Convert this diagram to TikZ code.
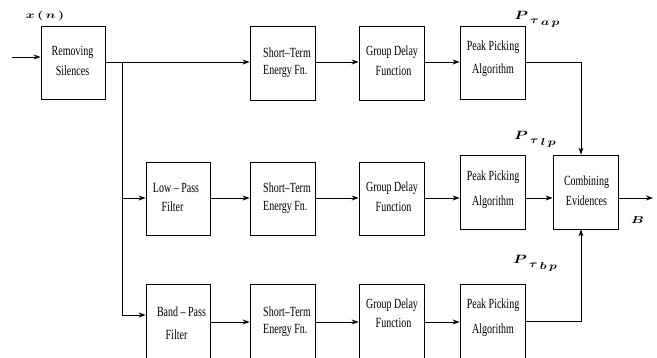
\documentclass[tikz,border=0pt]{standalone}
\usepackage{fontspec}
\setmainfont{Liberation Serif}
\usetikzlibrary{arrows.meta}
\newcommand{\tallt}[1]{\scalebox{1}[1.4]{#1}}
\newcommand{\ptau}[1]{\scalebox{1.3}[1]{\boldmath{\large$P$}\,\raisebox{-4.5pt}{$\tau$}\,\raisebox{-6pt}{$#1$}}}
\begin{document}
\begin{tikzpicture}[x=1pt,y=-1pt,
  blk/.style={draw, line width=0.8pt, inner sep=0pt, rectangle},
  txt/.style={inner sep=0pt, font=\fontsize{10}{12}\selectfont},
  mth/.style={inner sep=0pt},
  arr/.style={line width=0.9pt, -{Stealth[length=7pt,width=5pt]}},
  ln/.style={line width=0.9pt}]
\clip (0,0) rectangle (657,358);
\fill[white] (0,0) rectangle (657,358);
% boxes
\node[blk, minimum width=64pt, minimum height=73pt] (rs)  at (73,62.5) {};
\node[blk, minimum width=65pt, minimum height=74pt] (st1) at (282.5,63) {};
\node[blk, minimum width=65pt, minimum height=74pt] (gd1) at (391.5,63) {};
\node[blk, minimum width=65pt, minimum height=73pt] (pp1) at (492.5,62.5) {};
\node[blk, minimum width=64pt, minimum height=73pt] (lp)  at (178,198.5) {};
\node[blk, minimum width=65pt, minimum height=73pt] (st2) at (282.5,198.5) {};
\node[blk, minimum width=65pt, minimum height=73pt] (gd2) at (391.5,198.5) {};
\node[blk, minimum width=65pt, minimum height=74pt] (pp2) at (492.5,192) {};
\node[blk, minimum width=65pt, minimum height=74pt] (ce)  at (585.5,192) {};
\node[blk, minimum width=64pt, minimum height=75pt] (bp)  at (178,321.5) {};
\node[blk, minimum width=65pt, minimum height=75pt] (st3) at (282.5,321.5) {};
\node[blk, minimum width=65pt, minimum height=75pt] (gd3) at (391.5,321.5) {};
\node[blk, minimum width=65pt, minimum height=75pt] (pp3) at (492.5,321.5) {};
% texts
\node[txt] (rs1) at (72.5,52.5) {\tallt{Removing}};
\node[txt] (rs2) at (72.5,71) {\tallt{Silences}};
\node[txt, anchor=west] (st1a) at (263,52.5) {\tallt{Short–Term}};
\node[txt, anchor=west] (st1b) at (263,71) {\tallt{Energy Fn.}};
\node[txt] (gd1a) at (392,52.5) {\tallt{Group Delay}};
\node[txt] (gd1b) at (393.5,71) {\tallt{Function}};
\node[txt] (pp1a) at (493,47) {\tallt{Peak Picking}};
\node[txt] (pp1b) at (493,70) {\tallt{Algorithm}};
\node[txt] (lp1) at (176,188) {\tallt{Low – Pass}};
\node[txt] (lp2) at (172.5,207) {\tallt{Filter}};
\node[txt, anchor=west] (st2a) at (263,188) {\tallt{Short–Term}};
\node[txt, anchor=west] (st2b) at (263,207) {\tallt{Energy Fn.}};
\node[txt] (gd2a) at (392,188) {\tallt{Group Delay}};
\node[txt] (gd2b) at (393.5,207) {\tallt{Function}};
\node[txt] (pp2a) at (493,177) {\tallt{Peak Picking}};
\node[txt] (pp2b) at (493,202) {\tallt{Algorithm}};
\node[txt] (ce1) at (586.5,182) {\tallt{Combining}};
\node[txt] (ce2) at (586.5,201) {\tallt{Evidences}};
\node[txt] (bp1) at (181.5,312) {\tallt{Band – Pass}};
\node[txt] (bp2) at (176.5,335) {\tallt{Filter}};
\node[txt, anchor=west] (st3a) at (263,312) {\tallt{Short–Term}};
\node[txt, anchor=west] (st3b) at (263,330) {\tallt{Energy Fn.}};
\node[txt] (gd3a) at (392,305) {\tallt{Group Delay}};
\node[txt] (gd3b) at (393.5,323) {\tallt{Function}};
\node[txt] (pp3a) at (493,305) {\tallt{Peak Picking}};
\node[txt] (pp3b) at (493,330) {\tallt{Algorithm}};
% math labels
\node[mth] (xn) at (45,16) {\scalebox{1.35}[1]{\boldmath$x\,(\,n\,)$}};
\node[mth] (pap) at (537,19) {\ptau{a\,p}};
\node[mth] (plp) at (535,139) {\ptau{l\,p}};
\node[mth] (pbp) at (535,263) {\ptau{b\,p}};
\node[mth] (bout) at (637.5,220) {\scalebox{1.4}[1]{\boldmath$B$}};
% coordinates
\coordinate (in) at (12,57);
\coordinate (brt) at (122,62);
\coordinate (brm) at (122,198);
\coordinate (brb) at (122,315);
\coordinate (ct) at (581,62);
\coordinate (cb) at (581,321);
\coordinate (out) at (653,198);
\coordinate (rb) at (0,322);
% connectors
\draw[arr] (in) -- (in -| rs.west);
\draw[arr] (rs.east |- brt) -- (st1.west |- brt);
\draw[arr] (st1.east |- brt) -- (gd1.west |- brt);
\draw[arr] (gd1.east |- brt) -- (pp1.west |- brt);
\draw[arr] (pp1.east |- ct) -- (ct) -- (ct |- ce.north);
\draw[ln] (brt) -- (brb);
\draw[arr] (brm) -- (brm -| lp.west);
\draw[arr] (brb) -- (brb -| bp.west);
\draw[arr] (lp.east |- brm) -- (st2.west |- brm);
\draw[arr] (st2.east |- brm) -- (gd2.west |- brm);
\draw[arr] (gd2.east |- brm) -- (pp2.west |- brm);
\draw[arr] (pp2.east |- brm) -- (ce.west |- brm);
\draw[arr] (ce.east |- out) -- (out);
\draw[arr] (bp.east |- rb) -- (st3.west |- rb);
\draw[arr] (st3.east |- rb) -- (gd3.west |- rb);
\draw[arr] (gd3.east |- rb) -- (pp3.west |- rb);
\draw[arr] (pp3.east |- cb) -- (cb) -- (cb |- ce.south);
\end{tikzpicture}
\end{document}
